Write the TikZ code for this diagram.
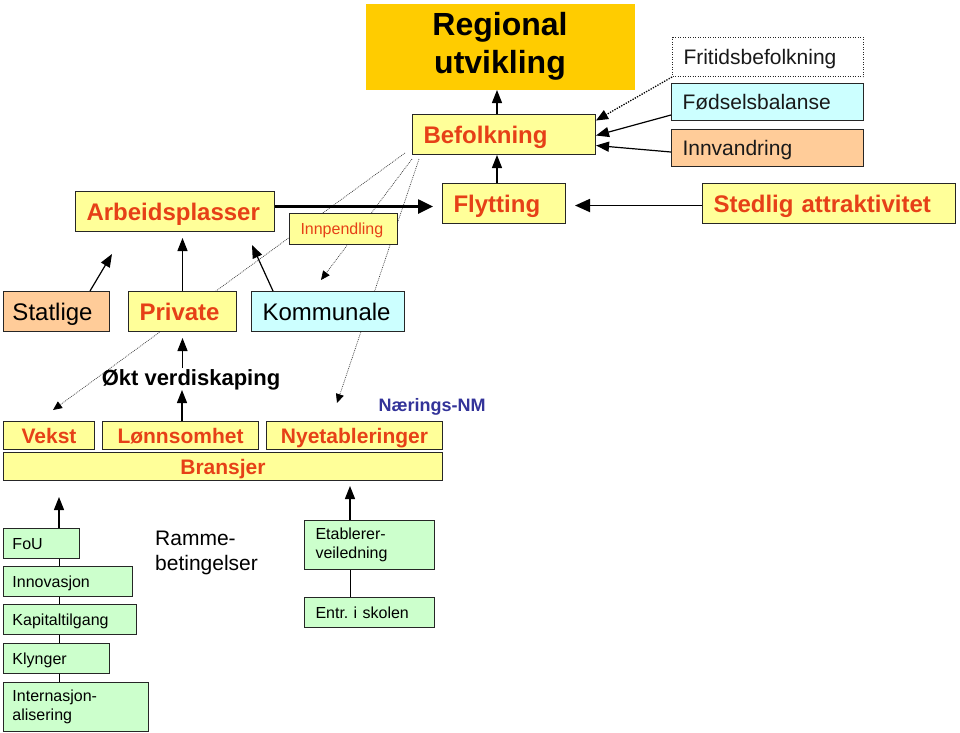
\documentclass[tikz,border=0pt]{standalone}
\usepackage{fontspec}
\setmainfont{Liberation Sans}
\usetikzlibrary{arrows.meta}
\definecolor{gold}{HTML}{FFCC00}
\definecolor{yel}{HTML}{FFFF99}
\definecolor{peach}{HTML}{FFCC99}
\definecolor{lcyan}{HTML}{CCFFFF}
\definecolor{lgrn}{HTML}{CCFFCC}
\definecolor{rd}{HTML}{E64017}
\definecolor{nv}{HTML}{333399}
\frenchspacing
\begin{document}
\begin{tikzpicture}[x=1pt,y=-1pt,
 bx/.style={draw=black!85, line width=1pt, rectangle, anchor=north west, inner xsep=11pt, inner ysep=0pt, align=left},
 cbx/.style={bx, inner xsep=4pt, align=center},
 big/.style={font=\fontsize{24}{28}\selectfont\bfseries, text=rd, text height=17.2pt, text depth=0pt},
 bigr/.style={font=\fontsize{24}{28}\selectfont, text height=17.2pt, text depth=0pt},
 mid/.style={font=\fontsize{21}{25}\selectfont},
 midone/.style={mid, text height=15pt, text depth=0pt},
 midb/.style={font=\fontsize{21}{25}\selectfont\bfseries, text=rd, text height=15pt, text depth=0pt},
 sml/.style={font=\fontsize{16}{19}\selectfont},
 smlone/.style={sml, text height=11.5pt, text depth=0pt},
 gbx/.style={bx, fill=lgrn, sml, inner xsep=9pt},
 arr/.style={line width=1.2pt, -{Triangle[length=13pt,width=10pt]}},
 arrb/.style={line width=1.8pt, -{Triangle[length=15pt,width=13pt]}},
 bigarr/.style={line width=2.6pt, -{Triangle[length=15pt,width=14pt]}},
 dots/.style={black!75, line width=0.7pt, dash pattern=on 0.9pt off 1pt, -{Triangle[length=9pt,width=8pt,color=black]}},
 fdots/.style={line width=1.3pt, dash pattern=on 1.3pt off 1.3pt, -{Triangle[length=12pt,width=10pt]}}
]
\useasboundingbox (0,0) rectangle (960,732);

% thin dotted connectors (behind boxes)
\coordinate (ds1) at (405,153);
\coordinate (ds2) at (412,159);
\coordinate (ds3) at (419,159);
\coordinate (de1) at (53,410);
\coordinate (de2) at (321,280);
\coordinate (de3) at (337,403);
\draw[dots] (ds1) -- (de1);
\draw[dots] (ds2) -- (de2);
\draw[dots] (ds3) -- (de3);

% top
\node[bx,fill=gold,draw=none,minimum width=269,minimum height=86,text width=247,align=center,font=\fontsize{32}{38}\selectfont\bfseries] (reg) at (365,3) {Regional\\utvikling};
\node[bx,fill=white,dash pattern=on 1pt off 1.5pt,minimum width=191,minimum height=39,text width=169,midone,text=black!90] (frit) at (672,37) {Fritidsbefolkning};
\node[bx,fill=lcyan,minimum width=192,minimum height=37,text width=170,midone,text=black!90] (fods) at (671,83) {Fødselsbalanse};
\node[bx,fill=peach,minimum width=192,minimum height=37,text width=170,midone,text=black!90] (innv) at (671,129) {Innvandring};
\node[bx,fill=yel,minimum width=183,minimum height=40,text width=161,big] (bef) at (412,114) {Befolkning};
\node[bx,fill=yel,minimum width=123,minimum height=40,text width=101,big] (flyt) at (442,183) {Flytting};
\node[bx,fill=yel,minimum width=253,minimum height=40,text width=231,big] (sted) at (702,183) {Stedlig attraktivitet};
\node[bx,fill=yel,minimum width=199,minimum height=40,text width=177,big] (arb) at (75,191) {Arbeidsplasser};
\node[bx,fill=yel,minimum width=108,minimum height=31,text width=86,smlone,text=rd] (innp) at (289,213) {Innpendling};

% sectors
\node[bx,fill=peach,minimum width=106,minimum height=40,inner xsep=9pt,text width=88,bigr] (stat) at (3,291) {Statlige};
\node[bx,fill=yel,minimum width=108,minimum height=40,text width=86,big] (priv) at (128,291) {Private};
\node[bx,fill=lcyan,minimum width=153,minimum height=40,text width=131,bigr] (komm) at (251,291) {Kommunale};

\node[font=\fontsize{22}{26}\selectfont\bfseries, inner sep=0pt] (okt) at (191,380) {Økt verdiskaping};
\node[font=\fontsize{18}{22}\selectfont\bfseries, text=nv, inner sep=0pt] (nm) at (432,407) {Nærings-NM};

\node[cbx,fill=yel,minimum width=91,minimum height=28,text width=83,midb] (vekst) at (3,421) {Vekst};
\node[cbx,fill=yel,minimum width=156,minimum height=28,text width=148,midb] (lonn) at (102,421) {Lønnsomhet};
\node[cbx,fill=yel,minimum width=176,minimum height=28,text width=168,midb] (nyet) at (266,421) {Nyetableringer};
\node[cbx,fill=yel,minimum width=439,minimum height=28,text width=431,midb] (brans) at (3,452) {Bransjer};

% rammebetingelser
\node[gbx,smlone,minimum width=76,minimum height=30,text width=58] (fou) at (3,528) {FoU};
\node[gbx,smlone,minimum width=129,minimum height=30,text width=111] (innov) at (3,566) {Innovasjon};
\node[gbx,smlone,minimum width=133,minimum height=30,text width=115] (kap) at (3,604) {Kapitaltilgang};
\node[gbx,smlone,minimum width=106,minimum height=30,text width=88] (klyn) at (3,643) {Klynger};
\node[gbx,minimum width=145,minimum height=49,text width=127] (intl) at (3,682) {Internasjon-\\alisering};
\node[anchor=west, inner sep=0pt, align=left, mid] (ramme) at (155,553) {Ramme-\\betingelser};
\node[gbx,inner xsep=11pt,minimum width=130,minimum height=49,text width=108] (etab) at (304,520) {Etablerer-\\veiledning};
\node[gbx,smlone,inner xsep=11pt,minimum width=130,minimum height=30,text width=108] (entr) at (304,597) {Entr. i skolen};

% solid connectors
\draw[arr] ([xshift=85pt]bef.north west) -- ([xshift=85pt]bef.north west |- reg.south);
\draw[arr] ([xshift=55pt]flyt.north west) -- ([xshift=55pt]flyt.north west |- bef.south);
\draw[fdots] (frit.south west) -- ([yshift=14pt]bef.east);
\draw[arr] ([yshift=6pt]fods.south west) -- ([yshift=-1pt]bef.east);
\draw[arr] ([yshift=-4pt]innv.west) -- ([yshift=-11pt]bef.east);
\coordinate (fw) at ([xshift=-9pt]flyt.west);
\coordinate (fe) at ([xshift=9pt]flyt.east);
\draw[bigarr] ([yshift=5pt]arb.east) -- ([yshift=5pt]arb.east -| fw);
\draw[arrb] ([yshift=-2pt]sted.west) -- ([yshift=-2pt]sted.west -| fe);

\coordinate (statend) at (112,254);
\coordinate (kommend) at (252,245);
\draw[arr] ([xshift=87pt]stat.north west) -- (statend);
\draw[arr] (priv.north) -- ([yshift=-6pt]priv.north |- arb.south);
\draw[arr] ([xshift=22pt]komm.north west) -- (kommend);

\draw[arr] ([xshift=80pt]lonn.north west) -- ([xshift=80pt,yshift=31pt]lonn.north west);
\draw[arr] ([yshift=-36pt]priv.south) -- ([yshift=-6pt]priv.south);

\draw[arr] ([xshift=56pt]fou.north west) -- ([xshift=56pt,yshift=31pt]fou.north west);
\draw[line width=1pt] ([xshift=56pt]fou.south west) -- ([xshift=56pt]innov.north west);
\draw[line width=1pt] ([xshift=56pt]innov.south west) -- ([xshift=56pt]kap.north west);
\draw[line width=1pt] ([xshift=56pt]kap.south west) -- ([xshift=56pt]klyn.north west);
\draw[line width=1pt] ([xshift=56pt]klyn.south west) -- ([xshift=56pt]intl.north west);

\draw[arr] ([xshift=46pt]etab.north west) -- ([xshift=46pt,yshift=-5pt]etab.north west |- brans.south);
\draw[line width=1pt] ([xshift=46pt]etab.south west) -- ([xshift=46pt]entr.north west);
\end{tikzpicture}
\end{document}
